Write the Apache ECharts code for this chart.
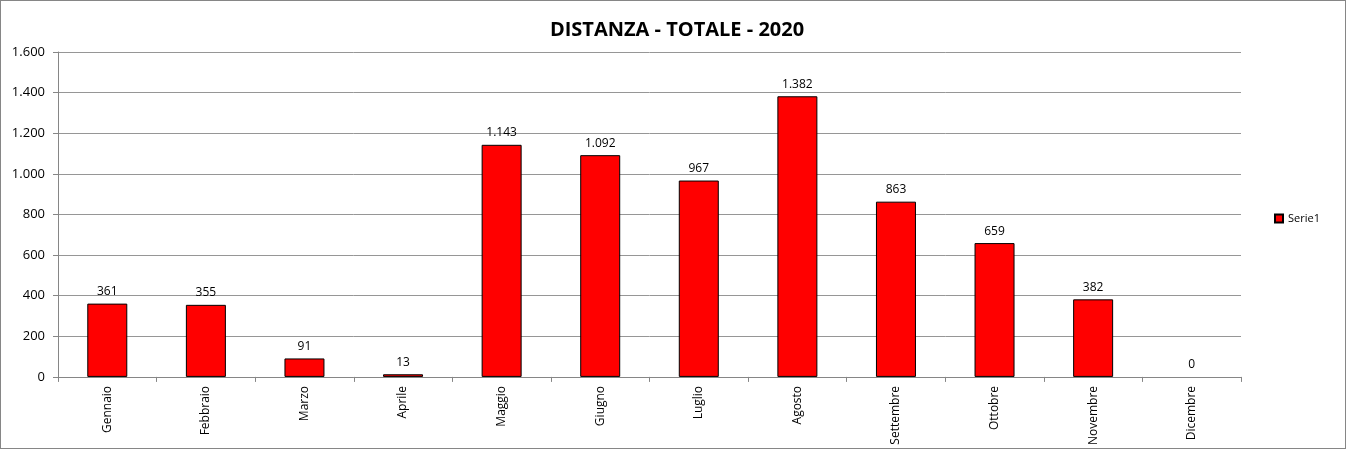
<!DOCTYPE html>
<html><head><meta charset="utf-8">
<script src="https://cdn.jsdelivr.net/npm/echarts@6/dist/echarts.min.js"></script>
<style>html,body{margin:0;padding:0;background:#fff}#c{width:1344px;height:447px;border:1px solid #868686}</style>
</head><body><div id="c"></div>
<script>
const categories = ['Gennaio','Febbraio','Marzo','Aprile','Maggio','Giugno','Luglio','Agosto','Settembre','Ottobre','Novembre','Dicembre'];
const values = [361,355,91,13,1143,1092,967,1382,863,659,382,0];
const yTicks = [0,200,400,600,800,1000,1200,1400,1600];
const fmt = v => String(v).replace(/\B(?=(\d{3})+(?!\d))/g,'.');
const chart = echarts.init(document.getElementById('c'));
chart.setOption({
  animation:false,
  textStyle:{fontFamily:'Open Sans, sans-serif'},
  title:{text:'DISTANZA - TOTALE - 2020',left:671,top:14,textAlign:'center',
    textStyle:{fontSize:20,fontWeight:'bold',color:'#000',fontFamily:'Open Sans, sans-serif'}},
  legend:{show:true,left:1268,top:207,itemWidth:8,itemHeight:8,itemGap:4,icon:'rect',
    textStyle:{fontSize:11,color:'#000'},data:['Serie1']},
  grid:{left:57,right:104,top:51,bottom:70,containLabel:false},
  xAxis:{type:'category',data:categories,
    axisLine:{lineStyle:{color:'#868686'}},
    axisTick:{show:true,inside:false,length:5,lineStyle:{color:'#868686'},alignWithLabel:false},
    axisLabel:{rotate:90,fontSize:12,color:'#000',margin:9},
    splitLine:{show:false}},
  yAxis:{type:'value',min:yTicks[0],max:yTicks[yTicks.length-1],interval:200,
    axisLine:{show:true,lineStyle:{color:'#868686'}},
    axisTick:{show:true,length:5,lineStyle:{color:'#868686'}},
    axisLabel:{fontSize:13,color:'#000',margin:13,formatter:fmt},
    splitLine:{lineStyle:{color:'#969696'}}},
  series:[{name:'Serie1',type:'bar',
    data:values.map(v => v === 0 ? {value:v,itemStyle:{borderWidth:0}} : v),
    barWidth:40,
    itemStyle:{color:'#ff0000',borderColor:'#000',borderWidth:1},
    label:{show:true,position:'top',fontSize:12,color:'#000',distance:6,formatter:p=>fmt(p.value)}}]
});
</script></body></html>
